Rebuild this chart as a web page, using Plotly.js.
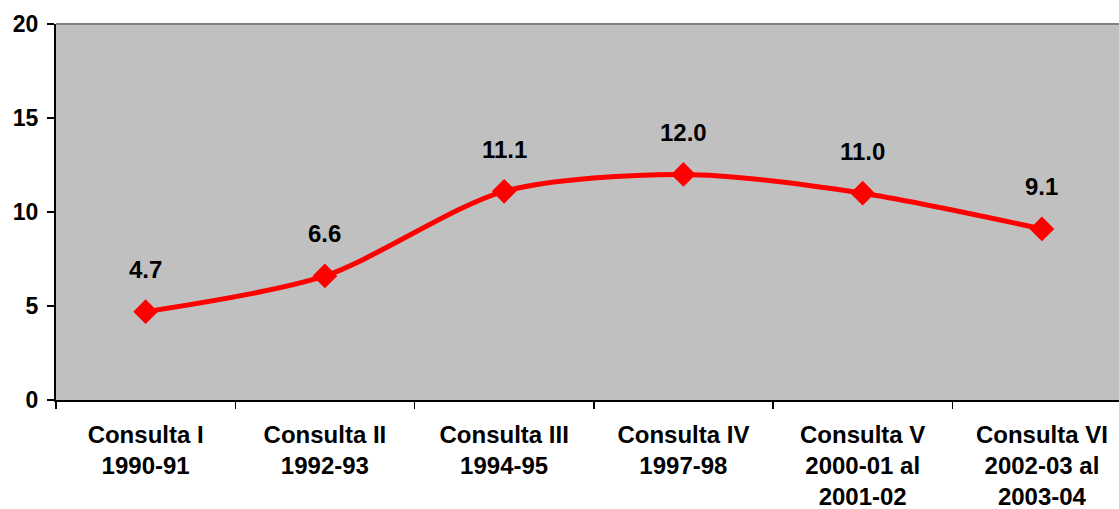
<!DOCTYPE html>
<html>
<head>
<meta charset="utf-8">
<script src="https://cdn.plot.ly/plotly-3.0.1.min.js"></script>
<style>html,body{margin:0;padding:0;background:#fff;}#chart{width:1119px;height:509px;}</style>
</head>
<body>
<div id="chart"></div>
<script>
const categories = ["Consulta I<br>1990-91", "Consulta II<br>1992-93", "Consulta III<br>1994-95", "Consulta IV<br>1997-98", "Consulta V<br>2000-01 al<br>2001-02", "Consulta VI<br>2002-03 al<br>2003-04"];
const values = [4.7, 6.6, 11.1, 12.0, 11.0, 9.1];
const valueLabels = ["4.7", "6.6", "11.1", "12.0", "11.0", "9.1"];
const yTicks = [0, 5, 10, 15, 20];

const font = "Liberation Sans, Arial, sans-serif";

const trace = {
  x: categories,
  y: values,
  type: "scatter",
  mode: "lines+markers",
  line: {color: "#ff0000", width: 5, shape: "spline", smoothing: 0.8},
  marker: {symbol: "diamond", size: 19, color: "#ff0000"},
  hoverinfo: "none"
};

const annotations = categories.map((c, i) => ({
  x: c, y: values[i], xref: "x", yref: "y",
  text: "<b>" + valueLabels[i] + "</b>",
  showarrow: false, yshift: 42,
  font: {family: font, size: 24, color: "#000"}
}));

const layout = {
  width: 1119, height: 509,
  margin: {l: 56, r: 0, t: 24, b: 109},
  paper_bgcolor: "#ffffff",
  plot_bgcolor: "#c0c0c0",
  showlegend: false,
  xaxis: {
    type: "category",
    range: [-0.5, 5.43],
    tickson: "boundaries",
    ticks: "outside", ticklen: 7, tickwidth: 1.5, tickcolor: "#000",
    showline: true, linecolor: "#000", linewidth: 2,
    showgrid: false, zeroline: false,
    tickfont: {family: font, size: 24, color: "#000", weight: "bold"},
    ticklabelstandoff: 12
  },
  yaxis: {
    range: [0, 20],
    tickvals: yTicks,
    ticktext: yTicks.map(String),
    ticks: "outside", ticklen: 7, tickwidth: 1.5, tickcolor: "#000",
    showline: true, linecolor: "#000", linewidth: 2,
    showgrid: false, zeroline: false,
    tickfont: {family: font, size: 23, color: "#000", weight: "bold"},
    ticklabelstandoff: 4
  },
  shapes: [{
    type: "line", xref: "paper", yref: "paper", x0: 0, x1: 1, y0: 1, y1: 1,
    line: {color: "#808080", width: 2}
  }],
  annotations: annotations
};

Plotly.newPlot("chart", [trace], layout, {staticPlot: true});
</script>
</body>
</html>
